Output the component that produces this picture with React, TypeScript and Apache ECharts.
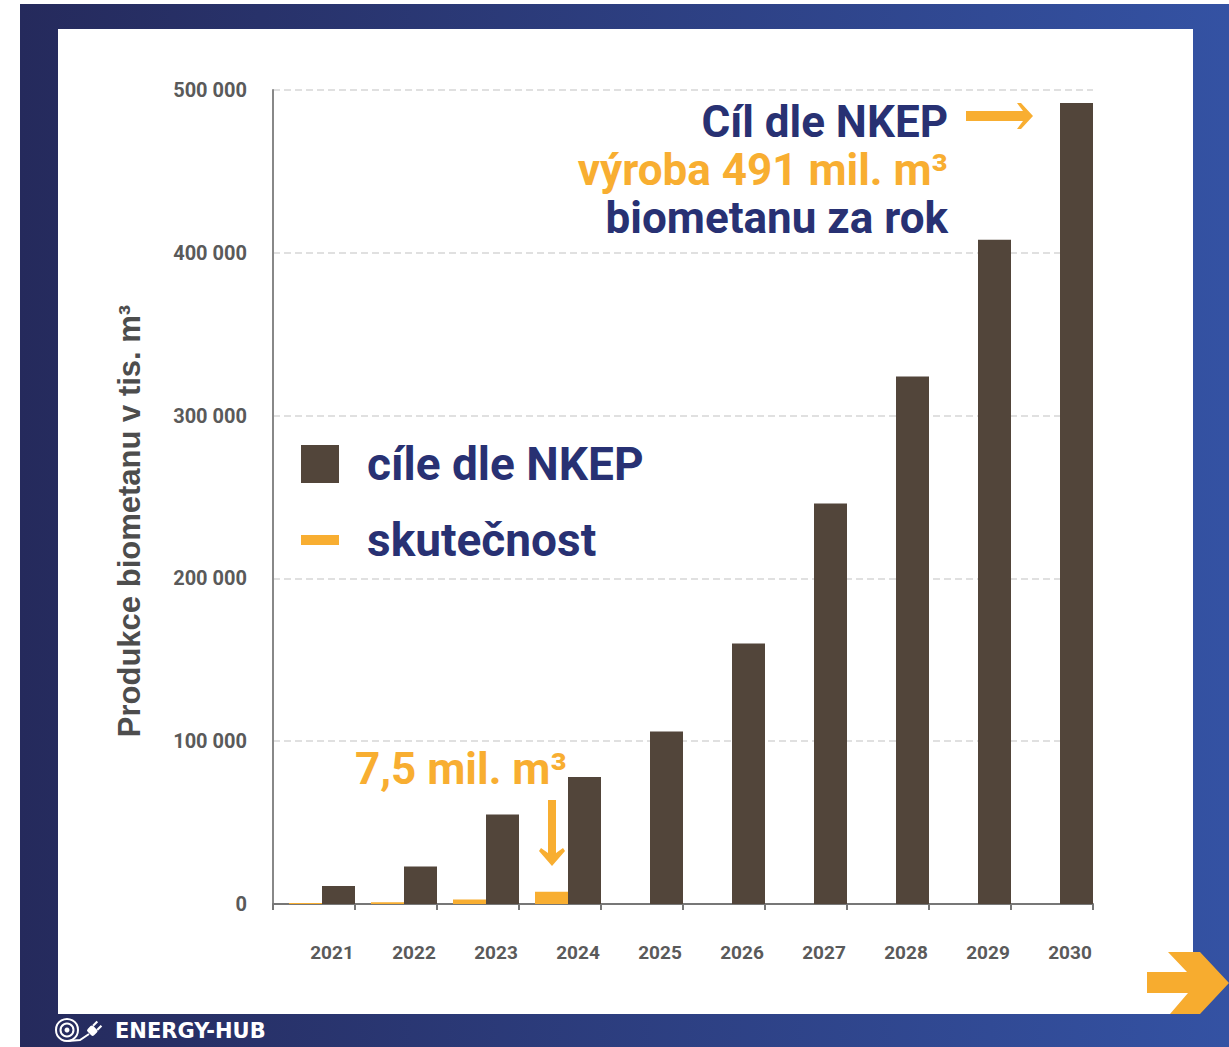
import React, { useEffect, useRef } from "react";
import * as echarts from "echarts";

const years = ["2021", "2022", "2023", "2024", "2025", "2026", "2027", "2028", "2029", "2030"];
const targetNKEP = [11000, 23000, 55000, 78000, 106000, 160000, 246000, 324000, 408000, 492000];
const actual = [600, 1000, 2800, 7500, null, null, null, null, null, null];
const spacer = [null, null, null, null, null, null, null, null, null, null];
const yTickLabels = ["0", "100 000", "200 000", "300 000", "400 000", "500 000"];

const NAVY = "#283173";
const ORANGE = "#f8ae31";
const BROWN = "#52453a";
const FONT = "Roboto, 'Liberation Sans', sans-serif";

export default function App() {
  const ref = useRef<HTMLDivElement>(null);
  useEffect(() => {
    if (!ref.current) return;
    const chart = echarts.init(ref.current, null, { renderer: "svg" });
    const txt = (text: string, x: number, y: number, fill: string, size: number, align: string) => ({
      type: "text",
      x,
      y,
      z: 10,
      silent: true,
      style: {
        text,
        fill,
        fontSize: size,
        fontWeight: "bold",
        fontFamily: FONT,
        align,
        verticalAlign: "middle",
        textAlign: align,
        textVerticalAlign: "middle",
      },
    });
    chart.setOption({
      animation: false,
      backgroundColor: "#ffffff",
      grid: { left: 273, right: 136, top: 90, bottom: 143, containLabel: false },
      legend: {
        orient: "vertical",
        left: 301,
        top: 441,
        padding: 0,
        itemWidth: 38,
        itemHeight: 38,
        itemGap: 30,
        selectedMode: false,
        symbolKeepAspect: true,
        data: [
          { name: "cíle dle NKEP", icon: "path://M0,0h38v38h-38z" },
          { name: "skutečnost", icon: "path://M0,0h38v10h-38z" },
        ],
        textStyle: {
          fontSize: 46,
          fontWeight: "bold",
          color: NAVY,
          fontFamily: FONT,
          padding: [0, 0, 0, 23],
        },
      },
      xAxis: {
        type: "category",
        data: years,
        boundaryGap: true,
        axisLine: { show: true, lineStyle: { color: "#777777", width: 2 } },
        axisTick: { show: true, length: 6, lineStyle: { color: "#777777", width: 2 } },
        axisLabel: {
          margin: 39,
          fontSize: 19,
          fontWeight: "bold",
          color: "#5a5a5a",
          fontFamily: FONT,
          padding: [0, 0, 0, 36],
        },
        splitLine: { show: false },
      },
      yAxis: {
        type: "value",
        min: 0,
        max: 500000,
        interval: 100000,
        name: "Produkce biometanu v tis. m³",
        nameLocation: "middle",
        nameRotate: 90,
        nameGap: 128,
        nameTextStyle: {
          fontSize: 31,
          fontWeight: "bold",
          color: "#4d4d4d",
          fontFamily: "'Liberation Sans', Arial, sans-serif",
          padding: [0, 48, 0, 0],
        },
        axisLine: { show: true, lineStyle: { color: "#888888", width: 2 } },
        axisTick: { show: false },
        axisLabel: {
          margin: 26,
          fontSize: 20,
          fontWeight: "bold",
          color: "#5a5a5a",
          fontFamily: FONT,
          formatter: (v: number) => yTickLabels[Math.round(v / 100000)],
        },
        splitLine: { show: true, lineStyle: { color: "#d6d6d6", width: 1.5, type: [7, 4] } },
      },
      series: [
        {
          name: "_spacer",
          type: "bar",
          data: spacer,
          barWidth: 16,
          silent: true,
          itemStyle: { color: "rgba(0,0,0,0)" },
        },
        {
          name: "skutečnost",
          type: "bar",
          data: actual,
          barWidth: 33,
          itemStyle: { color: ORANGE },
        },
        {
          name: "cíle dle NKEP",
          type: "bar",
          data: targetNKEP,
          barWidth: 33,
          barGap: "0%",
          itemStyle: { color: BROWN },
        },
      ],
      graphic: [
        {
          type: "rect",
          z: -20,
          silent: true,
          shape: { x: 20, y: 4, width: 1209, height: 1043 },
          style: {
            fill: new echarts.graphic.LinearGradient(0, 0, 1, 0, [
              { offset: 0, color: "#252a5c" },
              { offset: 1, color: "#3452a3" },
            ]),
          },
        },
        {
          type: "rect",
          z: -19,
          silent: true,
          shape: { x: 58, y: 29, width: 1135, height: 985 },
          style: { fill: "#ffffff" },
        },
        {
          type: "polygon",
          z: -18,
          silent: true,
          shape: {
            points: [
              [1147, 972], [1187, 972], [1168, 952], [1200, 952], [1229, 983],
              [1200, 1014], [1170, 1014], [1188, 993], [1147, 993],
            ],
          },
          style: { fill: "#f7ac2f" },
        },
        { type: "circle", z: 10, silent: true, shape: { cx: 67, cy: 1030, r: 11 }, style: { fill: "none", stroke: "#ffffff", lineWidth: 2 } },
        { type: "circle", z: 10, silent: true, shape: { cx: 67, cy: 1030, r: 6.5 }, style: { fill: "none", stroke: "#ffffff", lineWidth: 2 } },
        { type: "circle", z: 10, silent: true, shape: { cx: 67, cy: 1030, r: 2.5 }, style: { fill: "#ffffff" } },
        { type: "polyline", z: 10, silent: true, shape: { points: [[68, 1041], [80, 1040], [89, 1034]] }, style: { fill: "none", stroke: "#ffffff", lineWidth: 2 } },
        {
          type: "group",
          x: 93,
          y: 1030,
          rotation: Math.PI / 4,
          z: 10,
          children: [
            { type: "rect", z: 10, silent: true, shape: { x: -5, y: -4.5, width: 8, height: 9, r: 2 }, style: { fill: "#ffffff" } },
            { type: "rect", z: 10, silent: true, shape: { x: 3, y: -4, width: 6, height: 2.2 }, style: { fill: "#ffffff" } },
            { type: "rect", z: 10, silent: true, shape: { x: 3, y: 1.8, width: 6, height: 2.2 }, style: { fill: "#ffffff" } },
          ],
        },
        {
          type: "text",
          x: 115,
          y: 1031,
          z: 10,
          silent: true,
          style: {
            text: "ENERGY-HUB",
            fill: "#ffffff",
            fontSize: 21,
            fontWeight: "bold",
            fontFamily: "'DejaVu Sans', sans-serif",
            align: "left",
            verticalAlign: "middle",
            textAlign: "left",
            textVerticalAlign: "middle",
          },
        },
        txt("Cíl dle NKEP", 948, 122, NAVY, 44, "right"),
        txt("výroba 491 mil. m³", 948, 170, ORANGE, 44, "right"),
        txt("biometanu za rok", 948, 218, NAVY, 44, "right"),
        {
          type: "polygon",
          z: 10,
          silent: true,
          shape: {
            points: [
              [966, 111], [1023, 111], [1017, 103], [1021, 103], [1033, 116],
              [1021, 129], [1017, 129], [1023, 121], [966, 121],
            ],
          },
          style: { fill: ORANGE },
        },
        txt("7,5 mil. m³", 355, 769, ORANGE, 44, "left"),
        {
          type: "polygon",
          z: 10,
          silent: true,
          shape: {
            points: [
              [548, 800], [556, 800], [556, 853], [563, 848], [565, 851],
              [552, 866], [539, 851], [541, 848], [548, 853],
            ],
          },
          style: { fill: ORANGE },
        },
      ],
    });
    return () => chart.dispose();
  }, []);
  return <div ref={ref} style={{ position: "absolute", left: 0, top: 0, width: 1229, height: 1047 }} />;
}
